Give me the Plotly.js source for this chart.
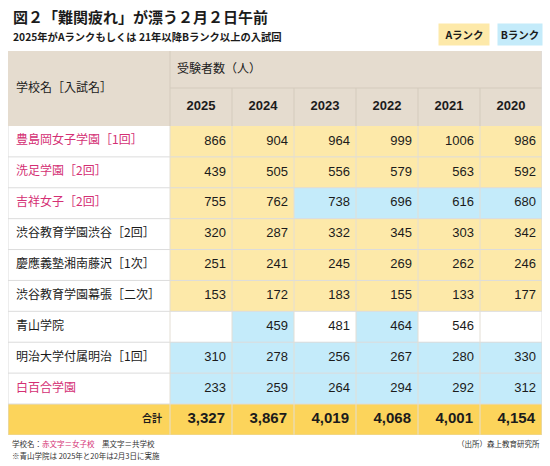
<!DOCTYPE html>
<html><head><meta charset="utf-8">
<script src="https://cdn.plot.ly/plotly-3.0.1.min.js"></script>
<style>html,body{margin:0;padding:0;background:#fff}</style>
</head><body><div id="chart" style="width:550px;height:466px"></div>
<script>
// ---- data ----
const years = ['2025','2024','2023','2022','2021','2020'];
const schools = ['豊島岡女子学園［1回］','洗足学園［2回］','吉祥女子［2回］','渋谷教育学園渋谷［2回］','慶應義塾湘南藤沢［1次］','渋谷教育学園幕張［二次］','青山学院','明治大学付属明治［1回］','白百合学園'];
const girlsSchool = [true,true,true,false,false,false,false,false,true];
const examinees = [
  [866,904,964,999,1006,986],
  [439,505,556,579,563,592],
  [755,762,738,696,616,680],
  [320,287,332,345,303,342],
  [251,241,245,269,262,246],
  [153,172,183,155,133,177],
  [null,459,481,464,546,null],
  [310,278,256,267,280,330],
  [233,259,264,294,292,312]
];
const ranks = [
  ['A','A','A','A','A','A'],
  ['A','A','A','A','A','A'],
  ['A','A','B','B','B','B'],
  ['A','A','A','A','A','A'],
  ['A','A','A','A','A','A'],
  ['A','A','A','A','A','A'],
  ['','B','','B','',''],
  ['B','B','B','B','B','B'],
  ['B','B','B','B','B','B']
];
const totals = [3327,3867,4019,4068,4001,4154];

// ---- styling / geometry ----
const C_BEIGE='#e5dccf', C_A='#fde9a9', C_B='#c4ebfa', C_TOT='#fcd45b', C_WHITE='#ffffff';
const PINK='#d42f74', INK='#1b1b1b';
const JP='Noto Sans CJK JP, sans-serif';
const NUM='Liberation Sans, Arial, sans-serif';
const W=534, H=384;
const nameW=162, colW=(W-nameW)/6;
const xEdges=[0]; xEdges.push(nameW); for(let i=1;i<=6;i++) xEdges.push(nameW+colW*i);
const h1=37, h2=38, totH=31;
const rowH=(H-h1-h2-totH)/schools.length;
const yEdges=[0,h1,h1+h2];
for(let i=1;i<=schools.length;i++) yEdges.push(h1+h2+rowH*i);
yEdges.push(H);
const mid=(a,i)=> (a[i]+a[i+1])/2;

const rankCode={'':0,'A':1,'B':2};
const z=[];
z.push(new Array(7).fill(4));
z.push(new Array(7).fill(4));
schools.forEach((s,r)=>{ z.push([0].concat(ranks[r].map(k=>rankCode[k]))); });
z.push(new Array(7).fill(3));

const traces=[];
traces.push({type:'heatmap', x:xEdges, y:yEdges, z:z, zmin:0, zmax:4, showscale:false, hoverinfo:'skip',
  colorscale:[[0,C_WHITE],[0.25,C_A],[0.5,C_B],[0.75,C_TOT],[1,C_BEIGE]]});

// school names
traces.push({type:'scatter', mode:'text', cliponaxis:false, hoverinfo:'skip',
  x:schools.map(()=>8), y:schools.map((s,i)=>mid(yEdges,i+2)),
  text:schools, textposition:'middle right',
  textfont:{family:JP, size:12, color:girlsSchool.map(g=>g?PINK:INK)}});
// numbers
const nx=[],ny=[],nt=[];
examinees.forEach((row,r)=>row.forEach((v,c)=>{ if(v!==null){ nx.push(xEdges[c+2]-6); ny.push(mid(yEdges,r+2)); nt.push(String(v)); } }));
traces.push({type:'scatter', mode:'text', cliponaxis:false, hoverinfo:'skip', x:nx, y:ny, text:nt,
  textposition:'middle left', textfont:{family:NUM, size:13, color:INK}});
// years
traces.push({type:'scatter', mode:'text', cliponaxis:false, hoverinfo:'skip',
  x:years.map((y,i)=>mid(xEdges,i+1)), y:years.map(()=>mid(yEdges,1)),
  text:years.map(y=>'<b>'+y+'</b>'), textposition:'middle center', textfont:{family:NUM, size:13, color:INK}});
// totals
traces.push({type:'scatter', mode:'text', cliponaxis:false, hoverinfo:'skip',
  x:totals.map((t,i)=>xEdges[i+2]-7), y:totals.map(()=>mid(yEdges,yEdges.length-2)),
  text:totals.map(t=>'<b>'+t.toLocaleString('en-US')+'</b>'), textposition:'middle left', textfont:{family:NUM, size:15, color:INK}});
// header labels
traces.push({type:'scatter', mode:'text', cliponaxis:false, hoverinfo:'skip',
  x:[8, nameW+7, nameW-8], y:[h1+0.5, h1/2, mid(yEdges,yEdges.length-2)],
  text:['学校名［入試名］','受験者数（人）','<b>合計</b>'], textposition:['middle right','middle right','middle left'],
  textfont:{family:JP, size:[12,12,10], color:INK}});

// borders
const shapes=[];
const L=(x0,y0,x1,y1,c)=>shapes.push({type:'line',xref:'x',yref:'y',x0,y0,x1,y1,line:{color:c,width:1},layer:'above'});
const HB='#d4cbbd', GB='#dcdcdc';
L(nameW,h1,W,h1,HB);
L(nameW,0,nameW,h1+h2,HB);
for(let i=2;i<=6;i++) L(xEdges[i],h1,xEdges[i],h1+h2,HB);
for(let i=3;i<yEdges.length-1;i++) L(0,yEdges[i],W,yEdges[i],GB);
for(let i=1;i<=6;i++) L(xEdges[i],h1+h2,xEdges[i],H,'#e3ded4');
L(0,h1+h2,0,H,GB); L(W,0,W,H,GB); L(0,H,W,H,'#e8d9a8');

// annotations in paper coords (plot area: x 8..542, y 51..435)
const px=x=>(x-8)/W, py=y=>(435-y)/H;
const ann=[
  {text:'<b>図２「難関疲れ」が漂う２月２日午前</b>', x:px(11), y:py(17), xanchor:'left', yanchor:'middle', font:{family:JP,size:15,color:INK}},
  {text:'<b>2025年がAランクもしくは 21年以降Bランク以上の入試回</b>', x:px(11), y:py(36), xanchor:'left', yanchor:'middle', font:{family:JP,size:10.3,color:INK}},
  {text:'<b>Aランク</b>', x:px(463.5), y:py(34.5), xanchor:'center', yanchor:'middle', width:50, height:21, borderpad:0, bgcolor:C_A, font:{family:JP,size:10.5,color:INK}},
  {text:'<b>Bランク</b>', x:px(519.5), y:py(34.5), xanchor:'center', yanchor:'middle', width:44, height:21, borderpad:0, bgcolor:C_B, font:{family:JP,size:10.5,color:INK}},
  {text:'学校名：<span style="color:'+PINK+'">赤文字＝女子校</span>　黒文字＝共学校', x:px(10), y:py(443), xanchor:'left', yanchor:'middle', font:{family:JP,size:7.5,color:'#333'}},
  {text:'※青山学院は 2025年と20年は2月3日に実施', x:px(10), y:py(455), xanchor:'left', yanchor:'middle', font:{family:JP,size:7.5,color:'#333'}},
  {text:'（出所）森上教育研究所', x:px(542), y:py(443), xanchor:'right', yanchor:'middle', font:{family:JP,size:7.5,color:'#333'}}
].map(a=>Object.assign({xref:'paper',yref:'paper',showarrow:false},a));

const layout={width:550,height:466,margin:{l:8,r:8,t:51,b:31},paper_bgcolor:'#fff',plot_bgcolor:'#fff',
  showlegend:false,hovermode:false,
  xaxis:{range:[0,W],visible:false,fixedrange:true},
  yaxis:{range:[H,0],visible:false,fixedrange:true},
  shapes:shapes, annotations:ann};
Plotly.newPlot('chart',traces,layout,{displayModeBar:false,staticPlot:true});
</script></body></html>
